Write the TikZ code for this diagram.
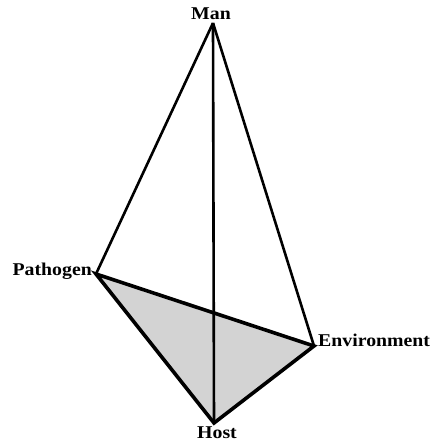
\documentclass[tikz,border=0pt]{standalone}
\usepackage{fontspec}
\setmainfont{Liberation Serif}[FakeStretch=1.1]
\begin{document}
\begin{tikzpicture}[x=1pt,y=1pt,
  lbl/.style={font=\fontsize{18}{21}\selectfont\bfseries, inner sep=0pt},
  thin edge/.style={line width=2.6pt},
  thick edge/.style={line width=3.6pt}]
\useasboundingbox (0,0) rectangle (429,442);
\coordinate (M) at (213,419);
\coordinate (P) at (96,168);
\coordinate (E) at (314,96);
\coordinate (H) at (214,19);
\fill[fill={rgb,255:red,211;green,211;blue,211}] (P) -- (E) -- (H) -- cycle;
\draw[thin edge] (M) -- (P);
\draw[thin edge] (M) -- (E);
\draw[thin edge] (M) -- (H);
\draw[thick edge, line join=miter] (P) -- (E) -- (H) -- cycle;
\node[lbl, anchor=base] (man) at (211,422.5) {Man};
\node[lbl, anchor=base east] (pat) at (92,166) {Pathogen};
\node[lbl, anchor=base west] (env) at (318,95) {Environment};
\node[lbl, anchor=base] (host) at (217,4) {Host};
\end{tikzpicture}
\end{document}
